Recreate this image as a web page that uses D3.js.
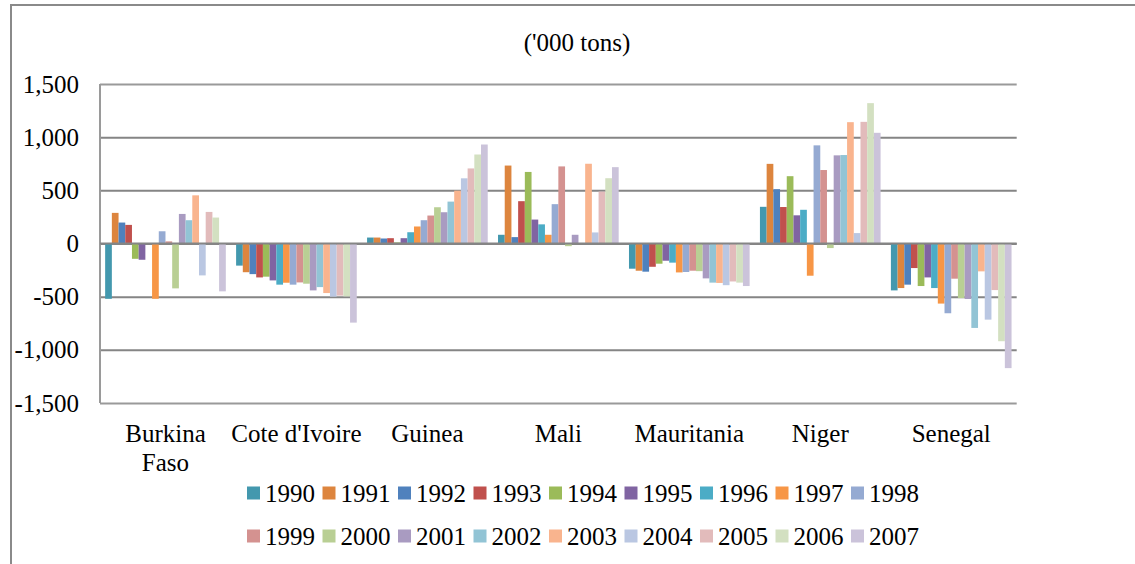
<!DOCTYPE html>
<html>
<head>
<meta charset="utf-8">
<script src="https://cdn.jsdelivr.net/npm/d3@7"></script>
<style>
  body { margin: 0; background: #fff; }
  svg text { font-family: "Liberation Serif", "Times New Roman", serif !important; fill: #000; }
</style>
</head>
<body>
<div id="chart"></div>
<script>
// countries on the x axis
var categories = ["Burkina Faso", "Cote d'Ivoire", "Guinea", "Mali", "Mauritania", "Niger", "Senegal"];
var years = ["1990", "1991", "1992", "1993", "1994", "1995", "1996", "1997", "1998",
  "1999", "2000", "2001", "2002", "2003", "2004", "2005", "2006", "2007"];
var colors = ["#4398AE", "#DD853E", "#4F81BD", "#C0504D", "#9BBB59", "#8064A2", "#4BACC6", "#F79646", "#95AAD2",
  "#D49290", "#B9CF94", "#A99BC1", "#92C4D5", "#F9B48E", "#BAC7E2", "#E2BBBB", "#D3E0C1", "#CBC3DA"];

// values ('000 tons), one array per country, 1990..2007
var burkinaFaso = [-520, 288, 197, 175, -144, -153, 0, -520, 115, 20, -422, 278, 219, 453, -300, 297, 244, -450];
var coteDIvoire = [-208, -270, -288, -319, -312, -347, -387, -369, -387, -366, -378, -441, -410, -466, -500, -490, -497, -744];
var guinea = [56, 56, 47, 50, 10, 50, 106, 160, 219, 263, 341, 294, 394, 497, 613, 706, 837, 931];
var mali = [82, 733, 60, 398, 673, 225, 180, 82, 370, 725, -25, 82, 0, 750, 104, 488, 614, 718];
var mauritania = [-237, -256, -265, -219, -190, -162, -180, -272, -268, -256, -260, -328, -368, -371, -392, -357, -368, -400];
var niger = [345, 749, 511, 343, 633, 265, 317, -303, 923, 691, -43, 829, 832, 1141, 98, 1144, 1320, 1041];
var senegal = [-441, -419, -387, -231, -400, -319, -419, -565, -656, -331, -513, -522, -794, -262, -716, -438, -919, -1172];

var seriesByCountry = [burkinaFaso, coteDIvoire, guinea, mali, mauritania, niger, senegal];
var yTicks = [-1500, -1000, -500, 0, 500, 1000, 1500];

var svgWidth = 1135;
var svgHeight = 564;
var plot = { left: 100, right: 1016.7, top: 84, bottom: 403 };
var serif = "'Liberation Serif', 'Times New Roman', serif";
var fontSize = "25px";

var svg = d3.select("#chart")
  .append("svg")
  .attr("width", svgWidth)
  .attr("height", svgHeight)
  .attr("font-family", serif);

// outer frame (left + top only visible)
svg.append("path")
  .attr("d", `M11,${svgHeight} L11,5 L${svgWidth},5`)
  .attr("fill", "none")
  .attr("stroke", "#8a8a8a")
  .attr("stroke-width", 2);

svg.append("text")
  .attr("x", 577)
  .attr("y", 51)
  .attr("text-anchor", "middle")
  .style("font-size", fontSize)
  .text("('000 tons)");

var x0 = d3.scaleBand().domain(categories).range([plot.left, plot.right]);
var x1 = d3.scaleBand().domain(years).range([5.15, x0.bandwidth() - 5.15]);
var y = d3.scaleLinear().domain([-1500, 1500]).range([plot.bottom, plot.top]);

var fmt = d3.formatLocale({ decimal: ".", thousands: ",", grouping: [3], currency: ["$", ""], minus: "-" }).format(",");

// gridlines + y labels
var leftAxis = d3.axisLeft(y)
  .tickValues(yTicks)
  .tickSize(-(plot.right - plot.left))
  .tickPadding(21)
  .tickFormat(fmt);

var yAxis = svg.append("g")
  .attr("transform", `translate(${plot.left},0)`)
  .call(leftAxis)
  .attr("font-family", serif)
  .attr("font-size", 25);
yAxis.select(".domain").remove();
yAxis.selectAll("line")
  .attr("stroke", d => (Math.abs(d) == 1500 ? "#9a9a9a" : "#858585"))
  .attr("stroke-width", 2);
yAxis.selectAll("text")
  .attr("fill", "#000");

// plot frame left edge
svg.append("line")
  .attr("x1", plot.left).attr("x2", plot.left)
  .attr("y1", plot.top).attr("y2", plot.bottom)
  .attr("stroke", "#9a9a9a")
  .attr("stroke-width", 2);

// bars
var groups = svg.append("g").selectAll("g")
  .data(categories)
  .enter()
  .append("g")
  .attr("transform", d => `translate(${x0(d)},0)`);

groups.selectAll("rect")
  .data((c, i) => years.map((yr, j) => ({ year: yr, value: seriesByCountry[i][j], color: colors[j] })))
  .enter()
  .append("rect")
  .attr("x", d => x1(d.year))
  .attr("width", x1.bandwidth())
  .attr("y", d => y(Math.max(0, d.value)))
  .attr("height", d => Math.abs(y(d.value) - y(0)))
  .attr("fill", d => d.color);

// redraw zero line on top of bars
svg.append("line")
  .attr("x1", plot.left).attr("x2", plot.right)
  .attr("y1", y(0)).attr("y2", y(0))
  .attr("stroke", "#858585")
  .attr("stroke-width", 2);

// category labels, wrapped when too wide
categories.forEach(function(c) {
  var t = svg.append("text")
    .attr("x", x0(c) + x0.bandwidth() / 2)
    .attr("y", 442)
    .attr("text-anchor", "middle")
    .style("font-size", fontSize)
    .text(c);
  if (t.node().getComputedTextLength() > 132) {
    var words = c.split(" ");
    t.text(null);
    words.forEach(function(w, i) {
      t.append("tspan")
        .attr("x", x0(c) + x0.bandwidth() / 2)
        .attr("dy", i == 0 ? 0 : 28.5)
        .text(w);
    });
  }
});

// legend, two rows of nine
var legend = svg.append("g").selectAll("g")
  .data(years)
  .enter()
  .append("g")
  .attr("transform", (d, i) => `translate(${247 + (i % 9) * 75.5},${i < 9 ? 493 : 536})`);

legend.append("rect")
  .attr("x", 0)
  .attr("y", -6.5)
  .attr("width", 13)
  .attr("height", 13)
  .attr("fill", (d, i) => colors[i]);

legend.append("text")
  .attr("x", 18)
  .attr("y", 8.5)
  .style("font-size", fontSize)
  .text(d => d);
</script>
</body>
</html>
